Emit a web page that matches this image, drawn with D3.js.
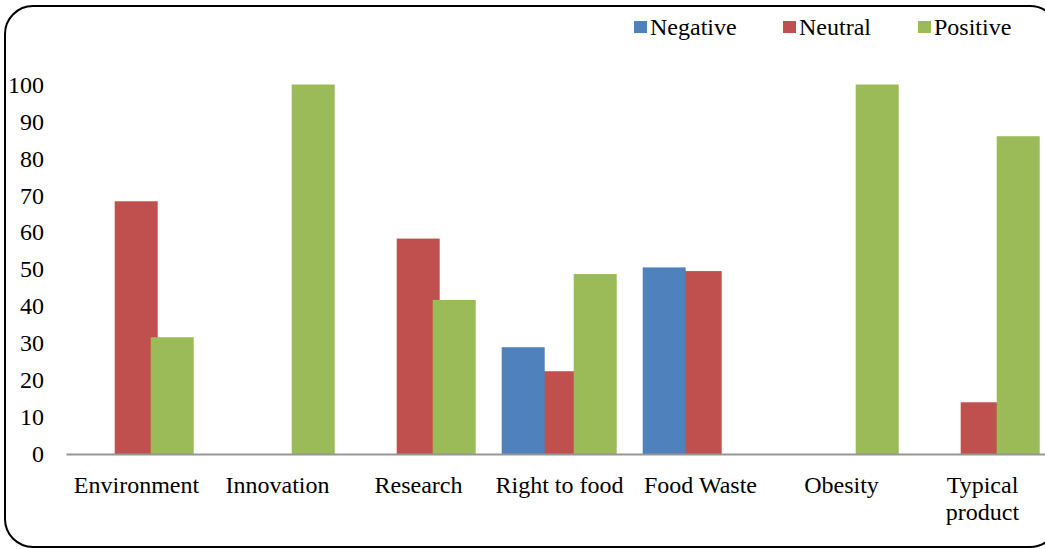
<!DOCTYPE html>
<html>
<head>
<meta charset="utf-8">
<script src="https://cdn.jsdelivr.net/npm/d3@7"></script>
<style>
  body { margin: 0; background: #fff; }
  text { font-family: "Liberation Serif", "Times New Roman", serif; fill: #000; }
</style>
</head>
<body>
<div class="chart"></div>
<script>
const categories = ["Environment", "Innovation", "Research", "Right to food", "Food Waste", "Obesity", "Typical product"];
const seriesNames = ["Negative", "Neutral", "Positive"];
const negative = [0, 0, 0, 28.9, 50.5, 0, 0];
const neutral = [68.4, 0, 58.3, 22.4, 49.5, 0, 14];
const positive = [31.6, 100, 41.7, 48.7, 0, 100, 86];
const yTicks = [0, 10, 20, 30, 40, 50, 60, 70, 80, 90, 100];
const colors = ["#4F81BD", "#C0504D", "#9BBB59"];

const svgWidth = 1045;
const svgHeight = 549;
const svg = d3.select(".chart").append("svg")
  .attr("width", svgWidth).attr("height", svgHeight);

// rounded frame, runs off the right edge like the original
svg.append("rect")
  .attr("x", 5).attr("y", 6)
  .attr("width", 1053).attr("height", 541)
  .attr("rx", 28).attr("ry", 28)
  .attr("fill", "none").attr("stroke", "#000").attr("stroke-width", 2);

const plotLeft = 66, plotTop = 84.5, plotBottom = 454;
const step = 141;

const xScale = d3.scaleBand()
  .domain(categories)
  .range([plotLeft, plotLeft + step * categories.length])
  .padding(0);

const xInner = d3.scaleBand()
  .domain(seriesNames)
  .range([12.7, 12.7 + 36 * 3]);
const barWidth = 43;

const yScale = d3.scaleLinear().domain([0, 100]).range([plotBottom, plotTop]);

const data = [negative, neutral, positive];

// neutral drawn first, the others overlap it
const drawOrder = [1, 0, 2];
const g = svg.append("g");
drawOrder.forEach((s) => {
  g.append("g").selectAll("rect")
    .data(categories.map((c, i) => ({ c, v: data[s][i] })).filter((d) => d.v > 0))
    .enter()
    .append("rect")
    .attr("x", (d) => xScale(d.c) + xInner(seriesNames[s]))
    .attr("y", (d) => yScale(d.v))
    .attr("width", barWidth)
    .attr("height", (d) => yScale(0) - yScale(d.v))
    .attr("fill", colors[s]);
});

// y axis labels, no line
const yAxisG = svg.append("g")
  .attr("transform", `translate(44,0)`)
  .call(d3.axisLeft(yScale).tickValues(yTicks).tickSize(0).tickPadding(0));
yAxisG.select(".domain").remove();
yAxisG.attr("font-family", null).attr("font-size", null);
yAxisG.selectAll("text")
  .style("font-size", "24px")
  .attr("fill", "#000");

// x axis line
const xAxisG = svg.append("g")
  .attr("transform", `translate(0,${plotBottom})`)
  .call(d3.axisBottom(xScale).tickSize(0).tickFormat(""));
xAxisG.select(".domain").attr("stroke", "#969696").attr("stroke-width", 2);

// category labels (wrapped where needed)
const labelLines = (c) => (c === "Typical product" ? ["Typical", "product"] : [c]);
categories.forEach((c) => {
  const t = svg.append("text")
    .attr("x", xScale(c) + xScale.bandwidth() / 2)
    .attr("y", 493)
    .attr("text-anchor", "middle")
    .style("font-size", "24px");
  labelLines(c).forEach((line, i) => {
    t.append("tspan")
      .attr("x", xScale(c) + xScale.bandwidth() / 2)
      .attr("dy", i === 0 ? 0 : 27)
      .text(line);
  });
});

// legend
const legendX = [634, 783, 918];
seriesNames.forEach((name, i) => {
  svg.append("rect")
    .attr("x", legendX[i]).attr("y", 21)
    .attr("width", 13).attr("height", 12)
    .attr("fill", colors[i]);
  svg.append("text")
    .attr("x", legendX[i] + 16).attr("y", 35)
    .style("font-size", "24px")
    .text(name);
});
</script>
</body>
</html>
